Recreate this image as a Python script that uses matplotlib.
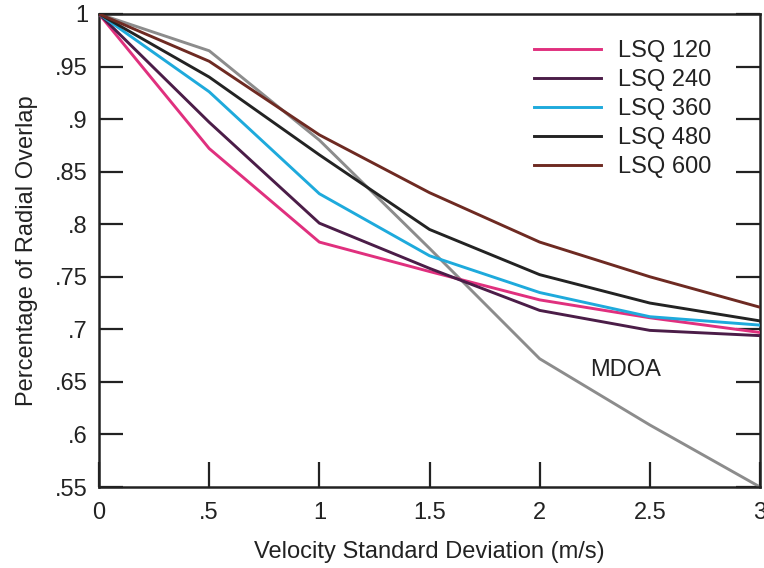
import numpy as np
import matplotlib.pyplot as plt

plt.rcParams['font.family'] = ['Liberation Sans', 'DejaVu Sans']

# velocity standard deviation (m/s)
x = [0, 0.5, 1.0, 1.5, 2.0, 2.5, 3.0]

lsq120 = [1.0, 0.872, 0.783, 0.755, 0.728, 0.711, 0.697]
lsq240 = [1.0, 0.897, 0.801, 0.758, 0.718, 0.699, 0.694]
lsq360 = [1.0, 0.926, 0.829, 0.770, 0.735, 0.712, 0.704]
lsq480 = [1.0, 0.940, 0.866, 0.795, 0.752, 0.725, 0.708]
lsq600 = [1.0, 0.955, 0.885, 0.830, 0.783, 0.750, 0.721]
mdoa = [1.0, 0.965, 0.880, 0.777, 0.672, 0.609, 0.550]

labels = ["LSQ 120", "LSQ 240", "LSQ 360", "LSQ 480", "LSQ 600"]
colors = ["#e0307e", "#4b1d48", "#1eaadc", "#232323", "#6e2a22"]

xticks = [0, 0.5, 1, 1.5, 2, 2.5, 3]
xticklabels = ["0", ".5", "1", "1.5", "2", "2.5", "3"]
yticks = [0.55, 0.6, 0.65, 0.7, 0.75, 0.8, 0.85, 0.9, 0.95, 1.0]
yticklabels = [".55", ".6", ".65", ".7", ".75", ".8", ".85", ".9", ".95", "1"]

fig = plt.figure(figsize=(7.64, 5.68), dpi=100)
ax = fig.add_axes([0.1296, 0.1426, 0.8652, 0.8328])

ax.plot(x, mdoa, color="#8c8c8c", linewidth=2.1, zorder=2)
for ys, lab, c in zip([lsq120, lsq240, lsq360, lsq480, lsq600], labels, colors):
    ax.plot(x, ys, color=c, linewidth=2.1, label=lab, zorder=3)

ax.text(2.39, 0.661, "MDOA", fontsize=17, color="#222222", ha="center", va="center")

ax.set_xlim(0, 3)
ax.set_ylim(0.55, 1.0)
ax.set_xticks(xticks)
ax.set_xticklabels(xticklabels)
ax.set_yticks(yticks)
ax.set_yticklabels(yticklabels)
ax.tick_params(axis="both", direction="in", length=17, width=1.6, labelsize=17,
               colors="#222222", right=True, top=False)
ax.tick_params(axis="x", length=18, pad=11)
ax.tick_params(axis="y", pad=8)

for sp in ax.spines.values():
    sp.set_linewidth(1.8)
    sp.set_color("#222222")

ax.set_xlabel("Velocity Standard Deviation (m/s)", fontsize=17, color="#222222", labelpad=12)
ax.set_ylabel("Percentage of Radial Overlap", fontsize=17, color="#222222", labelpad=12)

leg = ax.legend(loc="upper right", bbox_to_anchor=(0.959, 0.99), frameon=False,
                fontsize=17, handlelength=2.8, handletextpad=0.75,
                labelspacing=0.3)
for t in leg.get_texts():
    t.set_color("#222222")

fig.savefig("out.png", dpi=100)
